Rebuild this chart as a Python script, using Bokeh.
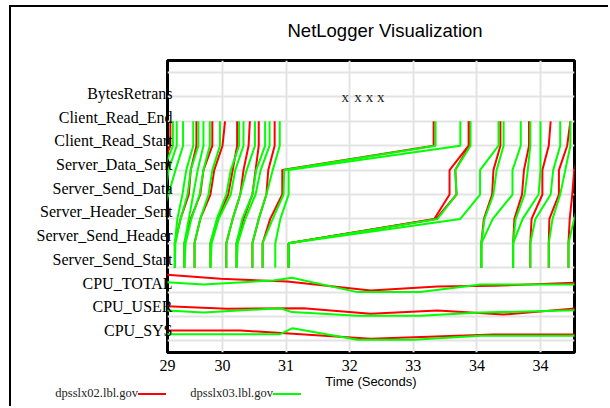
from bokeh.plotting import figure
from bokeh.layouts import column
from bokeh.models import FixedTicker, Title, Div
from bokeh.core.properties import value
from bokeh.embed import file_html
from bokeh.resources import INLINE

# ---------------- data ----------------
categories = ["CPU_SYS", "CPU_USER", "CPU_TOTAL", "Server_Send_Start",
              "Server_Send_Header", "Server_Header_Sent", "Server_Send_Data",
              "Server_Data_Sent", "Client_Read_Start", "Client_Read_End",
              "BytesRetrans"]
event_names = categories[3:10]          # order of events in a lifeline

x_tick_values = [29.135, 30, 31, 32, 33, 34, 35]
x_tick_labels = ["29", "30", "31", "32", "33", "34", "34"]

# lifelines: time (s) of each event, Server_Send_Start ... Client_Read_End
red_lifelines = [  # dpsslx02.lbl.gov
    [28.71, 28.71, 28.84, 28.95, 29.03, 29.18, 29.18],
    [29.25, 29.25, 29.34, 29.47, 29.50, 29.59, 29.59],
    [29.40, 29.40, 29.50, 29.65, 29.70, 29.84, 29.84],
    [29.56, 29.56, 29.65, 29.81, 29.87, 30.00, 30.04],
    [29.81, 29.81, 29.92, 30.09, 30.16, 30.23, 30.23],
    [30.06, 30.06, 30.16, 30.28, 30.33, 30.41, 30.43],
    [30.22, 30.22, 30.33, 30.47, 30.52, 30.57, 30.57],
    [30.47, 30.47, 30.57, 30.69, 30.72, 30.82, 30.82],
    [30.63, 30.63, 30.75, 30.94, 30.94, 33.32, 33.32],
    [31.04, 31.04, 33.33, 33.57, 33.57, 33.87, 33.87],
    [31.04, 31.04, 33.36, 33.68, 33.66, 33.88, 33.88],
    [34.07, 34.07, 34.11, 34.24, 34.26, 34.37, 34.37],
    [34.57, 34.57, 34.59, 34.71, 34.74, 34.82, 34.82],
    [34.84, 34.84, 34.86, 35.03, 35.03, 35.13, 35.16],
    [35.13, 35.13, 35.14, 35.29, 35.29, 35.42, 35.47],
    [35.44, 35.44, 35.46, 35.50, 35.53, 35.63, 35.63],
]
green_lifelines = [  # dpsslx03.lbl.gov
    [28.71, 28.71, 28.87, 28.99, 29.07, 29.22, 29.22],
    [28.79, 28.79, 28.95, 29.10, 29.15, 29.28, 29.28],
    [28.87, 28.87, 29.03, 29.15, 29.26, 29.38, 29.38],
    [29.25, 29.25, 29.29, 29.37, 29.43, 29.54, 29.54],
    [29.25, 29.26, 29.34, 29.45, 29.50, 29.62, 29.62],
    [29.40, 29.40, 29.47, 29.54, 29.61, 29.70, 29.70],
    [29.40, 29.42, 29.51, 29.64, 29.70, 29.80, 29.80],
    [29.56, 29.56, 29.65, 29.78, 29.84, 29.96, 29.96],
    [29.81, 29.81, 29.91, 30.06, 30.13, 30.26, 30.26],
    [29.81, 29.83, 29.94, 30.13, 30.20, 30.33, 30.33],
    [30.06, 30.06, 30.16, 30.28, 30.38, 30.51, 30.51],
    [30.22, 30.22, 30.31, 30.47, 30.53, 30.67, 30.67],
    [30.22, 30.24, 30.36, 30.52, 30.60, 30.74, 30.74],
    [30.47, 30.47, 30.57, 30.69, 30.79, 30.90, 30.90],
    [30.63, 30.63, 30.79, 30.96, 30.97, 33.35, 33.35],
    [30.83, 30.83, 30.91, 31.04, 31.04, 33.74, 33.74],
    [31.04, 31.04, 33.38, 33.68, 33.66, 33.90, 33.90],
    [31.04, 31.04, 33.74, 34.05, 34.05, 34.34, 34.34],
    [34.07, 34.07, 34.12, 34.26, 34.31, 34.42, 34.42],
    [34.07, 34.07, 34.25, 34.56, 34.56, 34.69, 34.69],
    [34.57, 34.57, 34.61, 34.75, 34.80, 34.84, 34.84],
    [34.57, 34.57, 34.72, 34.97, 35.00, 35.00, 35.00],
    [34.84, 34.84, 34.92, 35.16, 35.20, 35.31, 35.31],
    [35.13, 35.13, 35.19, 35.31, 35.39, 35.47, 35.47],
    [35.44, 35.44, 35.53, 35.63, 35.71, 35.79, 35.79],
]

# CPU load, as a fraction of its row height
red_total_t = [29.10, 29.97, 31.02, 32.33, 33.38, 34.26, 35.60]
red_total_v = [0.72, 0.55, 0.43, 0.07, 0.23, 0.26, 0.39]
green_total_t = [29.10, 29.70, 30.80, 31.09, 32.12, 33.11, 34.06, 35.60]
green_total_v = [0.41, 0.31, 0.48, 0.59, 0.00, 0.00, 0.31, 0.31]

red_user_t = [29.10, 30.07, 31.27, 32.33, 33.38, 34.42, 35.60]
red_user_v = [0.42, 0.32, 0.34, 0.11, 0.25, 0.08, 0.34]
green_user_t = [29.10, 29.70, 30.91, 31.09, 32.12, 33.11, 34.06, 35.60]
green_user_v = [0.25, 0.16, 0.34, 0.18, 0.03, 0.03, 0.16, 0.26]

red_sys_t = [29.10, 30.28, 32.33, 34.26, 35.60]
red_sys_v = [0.43, 0.43, 0.09, 0.26, 0.26]
green_sys_t = [29.10, 30.90, 31.10, 32.12, 33.00, 34.06, 35.60]
green_sys_v = [0.27, 0.27, 0.52, 0.05, 0.05, 0.21, 0.21]

bytes_retrans_t = [31.93, 32.13, 32.31, 32.49]

hosts = ["dpsslx02.lbl.gov", "dpsslx03.lbl.gov"]

RED = "#ff0000"
GREEN = "#00ff00"
host_colors = [RED, GREEN]

# ---------------- main figure ----------------
p = figure(width=599, height=386, x_range=(29.135, 35.535), y_range=(-0.475, 11.492),
           output_backend="svg", toolbar_location=None,
           min_border_left=156, min_border_right=36, min_border_top=53, min_border_bottom=41)
p.background_fill_color = "white"
p.border_fill_color = "white"
p.outline_line_color = "black"
p.outline_line_width = 3

# small spacer between frame and title
p.add_layout(Title(text=" ", text_font_size="11px", standoff=0), "above")
p.title.text = "NetLogger Visualization"
p.title.align = "left"
p.title.offset = 120
p.title.standoff = 12
p.title.text_font = "Liberation Sans"
p.title.text_font_size = "18.5px"
p.title.text_font_style = "normal"
p.title.text_color = "black"

# grids
p.xgrid.ticker = FixedTicker(ticks=[30, 31, 32, 33, 34, 35])
p.ygrid.ticker = FixedTicker(ticks=list(range(len(categories) + 1)))
p.grid.grid_line_color = "#e3e3e3"
p.grid.grid_line_width = 2

# axes
p.axis.axis_line_color = None
p.axis.major_tick_line_color = None
p.axis.minor_tick_line_color = None
p.axis.major_tick_out = 0
p.axis.major_tick_in = 0
p.axis.minor_tick_out = 0
p.axis.minor_tick_in = 0

p.xaxis.ticker = FixedTicker(ticks=x_tick_values)
p.xaxis.major_label_overrides = {v: s for v, s in zip(x_tick_values, x_tick_labels)}
p.xaxis.major_label_text_font = "Liberation Serif"
p.xaxis.major_label_text_font_size = "16px"
p.xaxis.major_label_text_color = "black"
p.xaxis.major_label_standoff = 7
p.xaxis.axis_label = "Time (Seconds)"
p.xaxis.axis_label_text_font = "Liberation Sans"
p.xaxis.axis_label_text_font_size = "13px"
p.xaxis.axis_label_text_font_style = "normal"
p.xaxis.axis_label_text_color = "black"
p.xaxis.axis_label_standoff = 0

label_pos = [i + 0.43 - 0.029 * i for i in range(len(categories))]
p.yaxis.ticker = FixedTicker(ticks=label_pos)
p.yaxis.major_label_overrides = {v: c for v, c in zip(label_pos, categories)}
p.yaxis.major_label_text_font = "Liberation Serif"
p.yaxis.major_label_text_font_size = "16px"
p.yaxis.major_label_text_color = "black"
p.yaxis.major_label_standoff = -5

levels = [categories.index(e) for e in event_names]
cpu_rows = {"CPU_TOTAL": categories.index("CPU_TOTAL"),
            "CPU_USER": categories.index("CPU_USER"),
            "CPU_SYS": categories.index("CPU_SYS")}

# red host first, green drawn over it
p.multi_line(xs=red_lifelines, ys=[levels] * len(red_lifelines), line_color=RED, line_width=2)
p.line(red_total_t, [cpu_rows["CPU_TOTAL"] + v for v in red_total_v], line_color=RED, line_width=2)
p.line(red_user_t, [cpu_rows["CPU_USER"] + v for v in red_user_v], line_color=RED, line_width=2)
p.line(red_sys_t, [cpu_rows["CPU_SYS"] + v for v in red_sys_v], line_color=RED, line_width=2)

p.multi_line(xs=green_lifelines, ys=[levels] * len(green_lifelines), line_color=GREEN, line_width=2)
p.line(green_total_t, [cpu_rows["CPU_TOTAL"] + v for v in green_total_v], line_color=GREEN, line_width=2)
p.line(green_user_t, [cpu_rows["CPU_USER"] + v for v in green_user_v], line_color=GREEN, line_width=2)
p.line(green_sys_t, [cpu_rows["CPU_SYS"] + v for v in green_sys_v], line_color=GREEN, line_width=2)

br = categories.index("BytesRetrans")
p.text(x=bytes_retrans_t, y=[br] * len(bytes_retrans_t), text=["x"] * len(bytes_retrans_t),
       text_font=value("Liberation Serif"), text_font_size="15px", text_align="center",
       text_baseline="alphabetic", text_color="#222222")

# ---------------- legend strip: host name followed by its line sample ----------------
text_right = [127, 262]
sample_len = 28
parts = ['<div style="position:relative;width:599px;height:15px;overflow:visible;'
         'font-family:\'Liberation Serif\',serif;font-size:12.5px;color:#222222;">']
for name, col, xr in zip(hosts, host_colors, text_right):
    parts.append(f'<div style="position:absolute;left:0px;top:-6px;width:{xr}px;text-align:right;'
                 f'line-height:12px;white-space:nowrap;">{name}</div>')
    parts.append(f'<div style="position:absolute;left:{xr}px;top:0px;width:{sample_len}px;'
                 f'height:2px;background:{col};"></div>')
parts.append('</div>')
leg = Div(text="".join(parts), width=599, height=15, margin=(0, 0, 0, 0),
          styles={"overflow": "visible"})

layout = column(p, leg, margin=(7, 0, 0, 11), styles={"box-shadow": "-2px -2px 0 0 black"})

open("out.html", "w").write(file_html(layout, INLINE))
